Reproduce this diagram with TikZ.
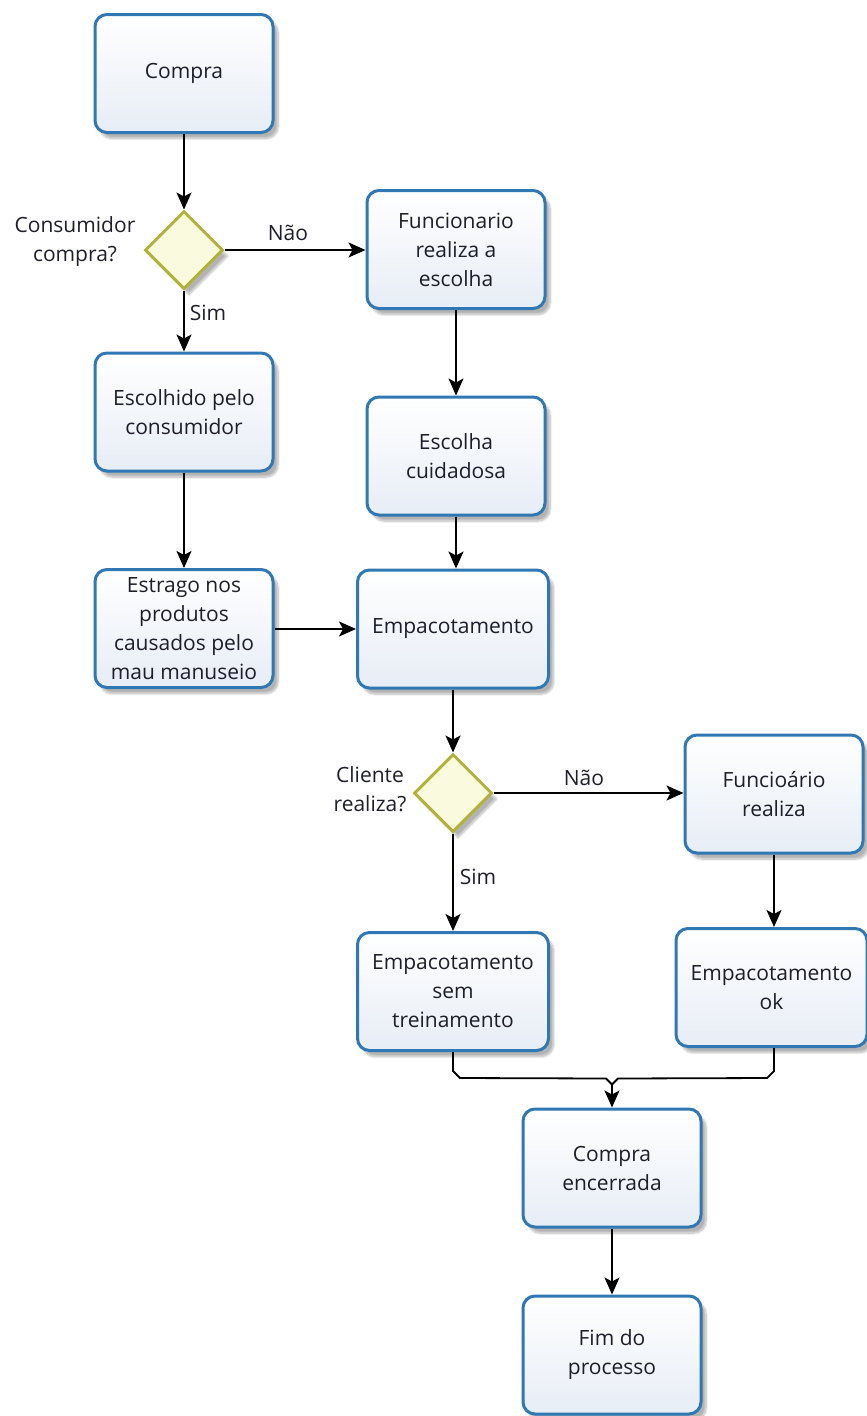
\documentclass[tikz,border=0pt]{standalone}
\usepackage{fontspec}
\setmainfont{Open Sans}
\usetikzlibrary{shapes.geometric,arrows.meta,shadows.blur,calc}
\definecolor{boxline}{HTML}{2F78B4}
\definecolor{boxfill}{HTML}{E7EDF6}
\definecolor{decline}{HTML}{B2B23A}
\definecolor{decfill}{HTML}{FAFADF}
\definecolor{ink}{HTML}{1E1E2A}
\begin{document}
\begin{tikzpicture}[x=1pt,y=-1pt,
  font=\fontsize{21}{29}\selectfont, text=ink,
  taskbox/.style={draw=boxline, line width=3pt, rounded corners=12pt,
    top color=white, bottom color=boxfill,
    minimum width=178pt, minimum height=118pt, align=center, inner sep=4pt,
    blur shadow={shadow xshift=5pt, shadow yshift=-6pt, shadow blur steps=10, shadow opacity=30}},
  widebox/.style={taskbox, minimum width=191pt},
  gate/.style={diamond, aspect=1, draw=decline, line width=3pt, fill=decfill,
    minimum width=78pt, minimum height=78pt, inner sep=0pt,
    blur shadow={shadow xshift=5pt, shadow yshift=-6pt, shadow blur steps=10, shadow opacity=30}},
  conn/.style={draw=black, line width=1.8pt},
  arr/.style={conn, -{Stealth[length=17pt,width=15pt,inset=4pt]}},
  lbl/.style={align=center, inner sep=0pt}
]
\useasboundingbox (0,0) rectangle (867,1416);

% tasks
\node[taskbox] (compra) at (184,73.5) {Compra};
\node[gate] (d1) at (184,250) {};
\node[taskbox] (func) at (456,249.5) {Funcionario\\realiza a\\escolha};
\node[taskbox] (escolhido) at (184,412) {Escolhido pelo\\consumidor};
\node[taskbox] (cuid) at (456,456) {Escolha\\cuidadosa};
\node[taskbox] (estrago) at (184,628.5) {Estrago nos\\produtos\\causados pelo\\mau manuseio};
\node[widebox] (emp) at (453,629) {Empacotamento};
\node[gate] (d2) at (453,793) {};
\node[taskbox] (func2) at (774,794) {Funcioário\\realiza};
\node[widebox] (sem) at (453,991.5) {Empacotamento\\sem\\treinamento};
\node[widebox] (ok) at (771.5,987.5) {Empacotamento\\ok};
\node[taskbox] (enc) at (612,1168) {Compra\\encerrada};
\node[taskbox] (fim) at (612,1355) {Fim do\\processo};

% gate questions
\node[lbl] (q1) at (75,242) {Consumidor\\compra?};
\node[lbl] (q2) at (370,789) {Cliente\\realiza?};

% connectors
\draw[arr] (compra) -- (d1);
\draw[arr] (d1) -- (func.west |- d1);
\draw[arr] (d1) -- (escolhido);
\draw[arr] (func) -- (cuid);
\draw[arr] (escolhido) -- (estrago);
\draw[arr] (cuid.south) -- (cuid.south |- emp.north);
\draw[arr] (estrago.east |- emp) -- (emp);
\draw[arr] (emp) -- (d2);
\draw[arr] (d2) -- (func2.west |- d2);
\draw[arr] (d2) -- (sem);
\draw[arr] (func2.south) -- (func2.south |- ok.north);

% merge into the closing task
\coordinate (mg) at ($(enc.north)+(0,-23)$);
\draw[conn] (sem.south) -- ++(0,19) -- ++(7,7) -- ($(mg)+(-6,-6)$) -- (mg);
\draw[conn] (ok.south -| func2) -- ++(0,23) -- ++(-7,7) -- ($(mg)+(6,-6)$) -- (mg);
\draw[arr] (mg) -- (enc);
\draw[arr] (enc) -- (fim);

% branch labels
\node[lbl] (n1) at (288,233) {Não};
\node[lbl] (s1) at (208,313) {Sim};
\node[lbl] (n2) at (584,778) {Não};
\node[lbl] (s2) at (478,877) {Sim};
\end{tikzpicture}
\end{document}
